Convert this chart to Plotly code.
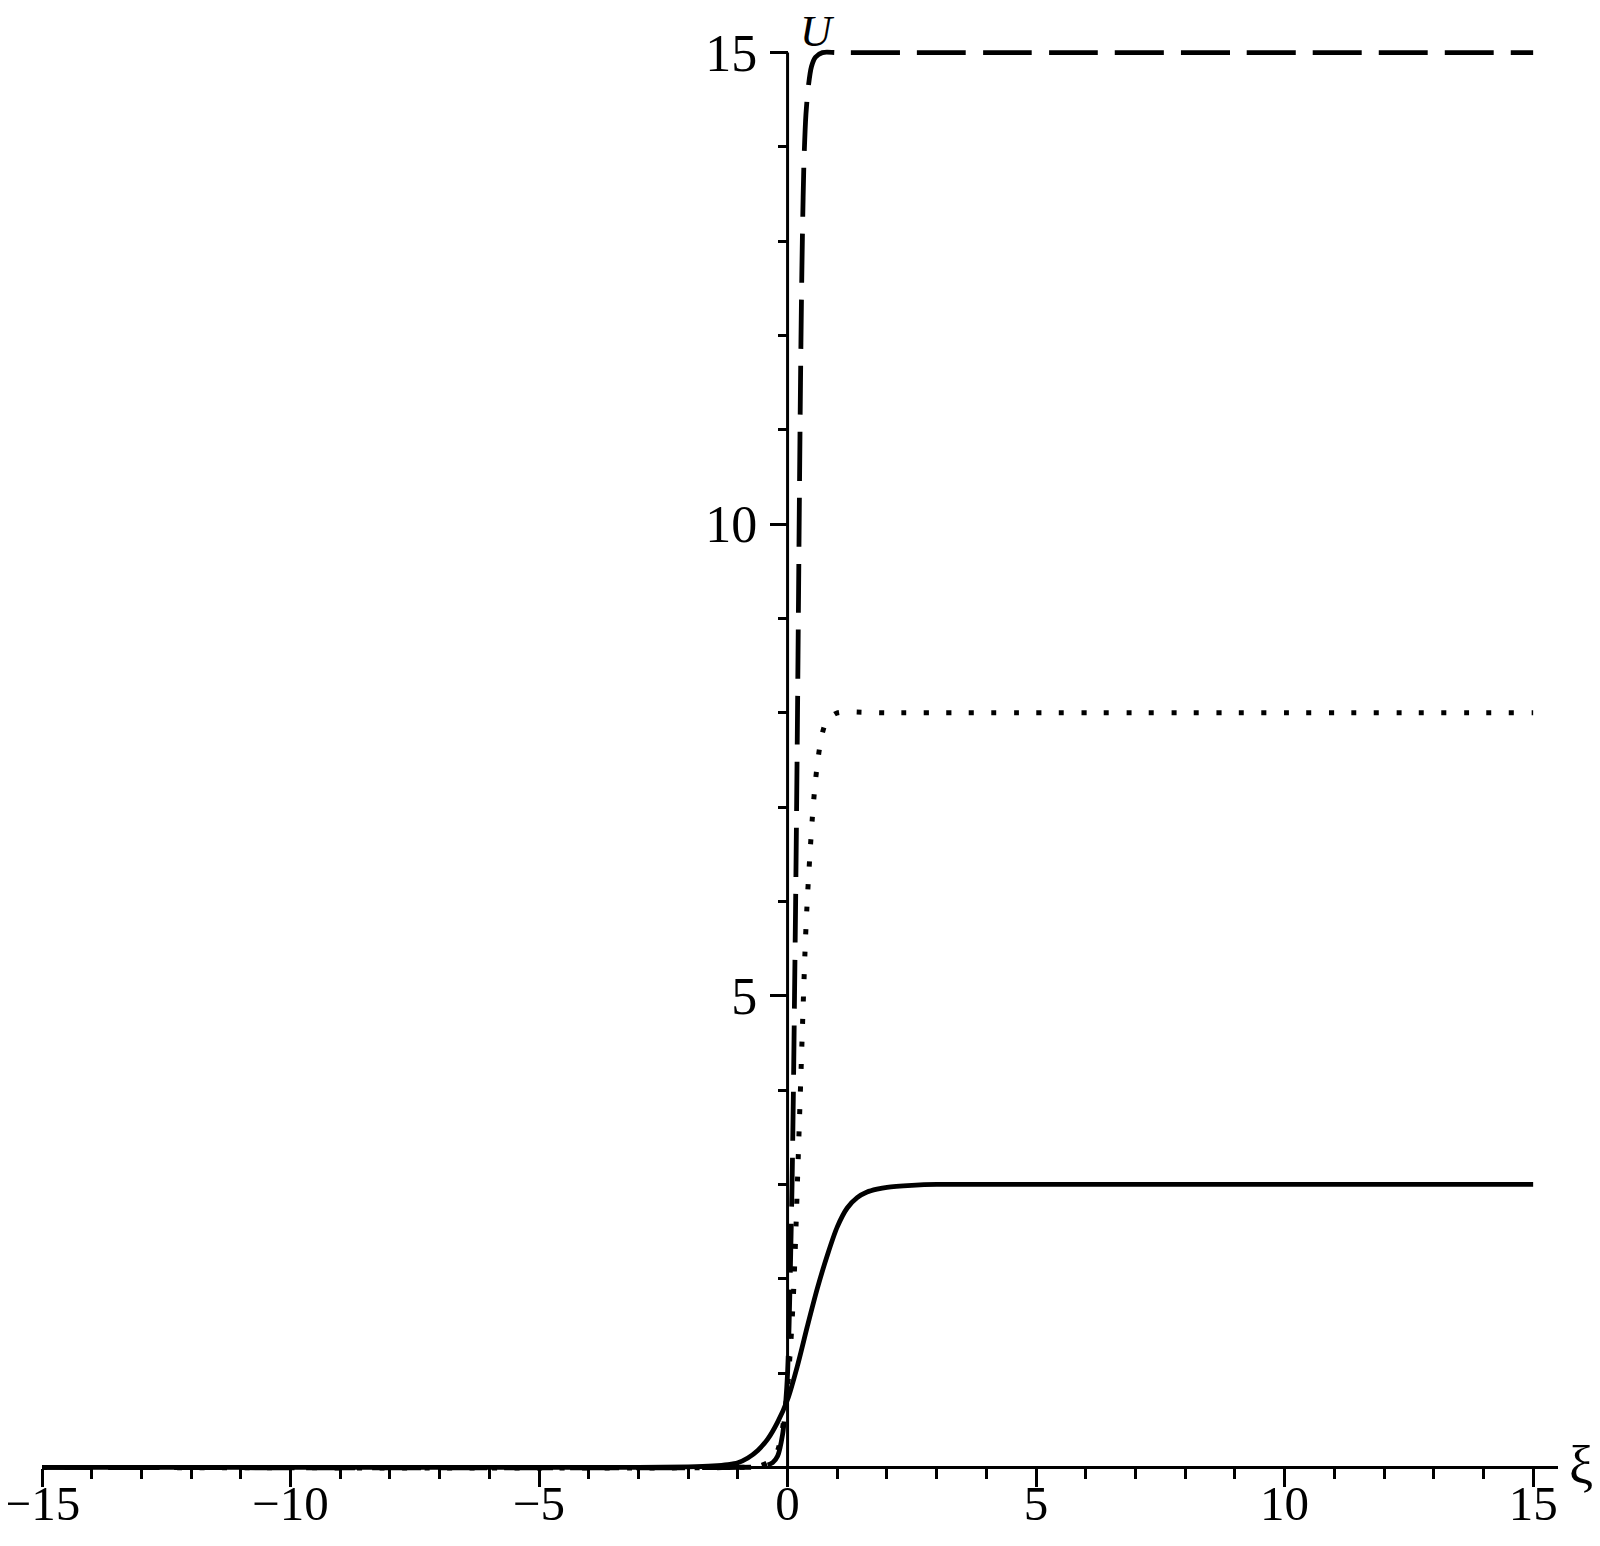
import plotly.graph_objects as go

# ---------------- data ----------------
solid_x = [-15, -3, -2, -1.5, -1.2, -1.0, -0.8, -0.6, -0.4, -0.2, 0.0, 0.2, 0.4, 0.6,
           0.8, 1.0, 1.2, 1.4, 1.6, 1.8, 2.0, 2.5, 3.0, 5.0, 15]
solid_y = [0, 0.0, 0.005, 0.015, 0.03, 0.05, 0.1, 0.18, 0.3, 0.48, 0.72, 1.08, 1.5, 1.9,
           2.25, 2.55, 2.75, 2.86, 2.92, 2.95, 2.97, 2.99, 3.0, 3.0, 3.0]

dotted_x = [-15, -1, -0.6, -0.4, -0.3, -0.2, -0.1, 0.0, 0.04, 0.08, 0.12, 0.16, 0.2,
            0.24, 0.28, 0.32, 0.36, 0.40, 0.45, 0.5, 0.55, 0.6, 0.67, 0.75, 0.86,
            1.0, 2.0, 15]
dotted_y = [0, 0, 0.01, 0.05, 0.1, 0.18, 0.42, 0.85, 1.12, 1.45, 1.85, 2.4, 3.05,
            3.7, 4.35, 5.0, 5.6, 6.05, 6.5, 6.9, 7.22, 7.46, 7.71, 7.87, 7.95,
            8.0, 8.0, 8.0]

dashed_x = [-15, -1, -0.5, -0.3, -0.2, -0.1, -0.05, 0.0, 0.03, 0.06, 0.09, 0.12, 0.14,
            0.16, 0.18, 0.20, 0.22, 0.24, 0.26, 0.28, 0.30, 0.33, 0.37, 0.42, 0.48,
            0.56, 0.7, 1.0, 2.0, 15]
dashed_y = [0, 0, 0.01, 0.05, 0.12, 0.35, 0.6, 1.0, 1.5, 2.2, 3.0, 4.1, 5.0,
            5.9, 6.9, 8.0, 9.2, 10.4, 11.5, 12.4, 13.1, 13.85, 14.35, 14.65, 14.85,
            14.95, 15.0, 15.0, 15.0, 15.0]

x_tickvals = [-15, -10, -5, 0, 5, 10, 15]
x_ticktext = ["\u221215", "\u221210", "\u22125", "0", "5", "10", "15"]
y_tickvals = [5, 10, 15]
y_ticktext = ["5", "10", "15"]

# ---------------- layout geometry ----------------
OFF = 8                               # default body margin of the html page
W, H = 1600 - OFF, 1546 - OFF
FONT = "Liberation Serif"
xr = [-15, 15.5]
yr = [-0.07, 15.07]
X0_PX, X1_PX = 41.8 - OFF, 1558.3 - OFF     # pixel of x=-15 and x=15.5
Y0_PX, Y15_PX = 1467.4 - OFF, 52.3 - OFF    # pixel of y=0 and y=15
ypx = (Y0_PX - Y15_PX) / 15.0
top_px = Y15_PX - (yr[1] - 15) * ypx
bot_px = Y0_PX + (0 - yr[0]) * ypx
ml, mr, mt, mb = X0_PX, W - X1_PX, top_px, H - bot_px
pw, ph = W - ml - mr, H - mt - mb


def paper_x(px):
    return (px - OFF - ml) / pw


def paper_y(py):
    return (H - mb - (py - OFF)) / ph


fig = go.Figure()
common = dict(mode="lines", line_shape="spline", showlegend=False, hoverinfo="skip")
fig.add_trace(go.Scatter(x=solid_x, y=solid_y,
                         line=dict(color="black", width=4.8, smoothing=0.8), **common))
fig.add_trace(go.Scatter(x=dotted_x, y=dotted_y,
                         line=dict(color="black", width=5, dash="5px,17.5px", smoothing=0.8),
                         **common))
fig.add_trace(go.Scatter(x=dashed_x, y=dashed_y,
                         line=dict(color="black", width=4.8, dash="49px,17px", smoothing=0.8),
                         **common))

xtickfont = dict(family=FONT, size=49, color="black")
ytickfont = dict(family=FONT, size=52, color="black")

fig.update_layout(
    width=W, height=H, autosize=False,
    margin=dict(l=ml, r=mr, t=mt, b=mb, pad=0, autoexpand=False),
    paper_bgcolor="white", plot_bgcolor="white",
    xaxis=dict(
        range=xr, anchor="free", position=(0 - yr[0]) / (yr[1] - yr[0]),
        showgrid=False, zeroline=False,
        showline=True, linecolor="black", linewidth=3,
        tickmode="array", tickvals=x_tickvals, ticktext=x_ticktext,
        ticks="outside", ticklen=18, tickwidth=3, tickcolor="black",
        tickfont=xtickfont, ticklabeloverflow="allow", ticklabelstandoff=-26,
        minor=dict(dtick=1, tick0=0, ticks="outside", ticklen=10, tickwidth=3,
                   tickcolor="black", showgrid=False),
    ),
    yaxis=dict(
        range=yr, anchor="free", position=(0 - xr[0]) / (xr[1] - xr[0]),
        showgrid=False, zeroline=False, showline=False,
        tickmode="array", tickvals=y_tickvals, ticktext=y_ticktext,
        ticks="outside", ticklen=18, tickwidth=3, tickcolor="black",
        tickfont=ytickfont, ticklabeloverflow="allow", ticklabelstandoff=2,
        minor=dict(dtick=1, tick0=0, ticks="outside", ticklen=10, tickwidth=3,
                   tickcolor="black", showgrid=False),
    ),
    shapes=[dict(type="line", xref="x", yref="y", x0=0, x1=0, y0=0, y1=15,
                 line=dict(color="black", width=3), layer="above")],
    annotations=[
        dict(text="<i>U</i>", xref="paper", yref="paper", x=paper_x(818), y=paper_y(31),
             xanchor="center", yanchor="middle", showarrow=False,
             font=dict(family=FONT, size=44, color="black")),
        dict(text="ξ", xref="paper", yref="paper", x=paper_x(1581), y=paper_y(1466),
             xanchor="center", yanchor="middle", showarrow=False,
             font=dict(family=FONT, size=54, color="black")),
    ],
)

fig.write_html("out.html")
